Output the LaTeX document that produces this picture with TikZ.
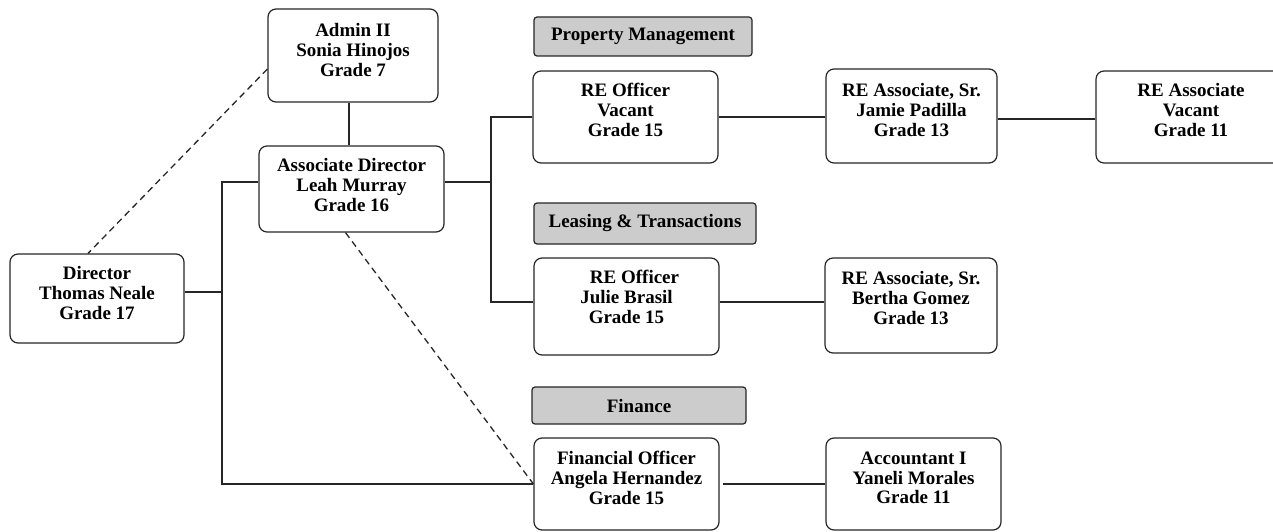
\documentclass[tikz,border=0pt]{standalone}
\usepackage{fontspec}
\setmainfont{Liberation Serif}
\begin{document}
\begin{tikzpicture}[x=1pt,y=1pt,
  unit/.style={draw=black!85, line width=1.2pt, rounded corners=8pt, fill=white, inner sep=0pt},
  section/.style={unit, fill=black!20, rounded corners=3pt},
  unittext/.style={align=center, inner sep=0pt, font=\bfseries\fontsize{19}{19.8}\selectfont},
  link/.style={draw=black!85, line width=1.3pt},
  dotted link/.style={link, dash pattern=on 6.5pt off 4.5pt}]
% canvas: 1273 x 532, y measured downwards as negative values
\useasboundingbox (0,0) rectangle (1273,-532);
\clip (0,0) rectangle (1273,-532);

% #1 name, #2 centre x, #3 centre y (downwards), #4 width, #5 height, #6 text lift, #7 text
\newcommand\orgunit[7]{%
  \node[unit, minimum width=#4pt, minimum height=#5pt] (#1) at (#2,-#3) {};
  \node[unittext] (#1-text) at ([yshift=#6pt]#1.center) {#7};}
\newcommand\orgsection[6]{%
  \node[section, minimum width=#4pt, minimum height=#5pt] (#1) at (#2,-#3) {};
  \node[unittext] (#1-text) at (#1.center) {#6};}

% executive level
\orgunit{admin}{353}{55.5}{170}{93}{5.5}{Admin II\\Sonia Hinojos\\Grade 7}
\orgunit{assoc}{351.5}{189}{185}{86}{4}{Associate Director\\Leah Murray\\Grade 16}
\orgunit{director}{97}{298.5}{174}{89}{5.5}{Director\\Thomas Neale\\Grade 17}

% section headers
\orgsection{pm}{643}{36.5}{218}{39}{Property Management}
\orgsection{lt}{645}{223.5}{222}{41}{Leasing \& Transactions}
\orgsection{fin}{639}{405.5}{214}{37}{Finance}

% property management
\orgunit{ofv}{625.5}{117}{185}{92}{7}{RE Officer\\Vacant\\Grade 15}
\orgunit{jamie}{911.5}{116}{171}{94}{6}{RE Associate, Sr.\\Jamie Padilla\\Grade 13}
\orgunit{rea}{1191}{117}{190}{92}{7}{RE Associate\\Vacant\\Grade 11}

% leasing & transactions
\orgunit{julie}{626.5}{306.5}{185}{97}{9.5}{\hspace*{16pt}RE Officer\\Julie Brasil\\Grade 15}
\orgunit{bertha}{911}{305.5}{172}{95}{7.5}{RE Associate, Sr.\\Bertha Gomez\\Grade 13}

% finance
\orgunit{fo}{626.5}{484}{185}{92}{6}{Financial Officer\\Angela Hernandez\\Grade 15}
\orgunit{acc}{913.5}{484}{175}{92}{6}{Accountant I\\Yaneli Morales\\Grade 11}

% junction points and connector ends
\coordinate (trunk) at (222,-182);
\coordinate (branch) at (491,-182);
\coordinate (admin-s) at ([xshift=-4pt]admin.south);
\coordinate (dir-e) at ([yshift=6.5pt]director.east);
\coordinate (assoc-w) at ([yshift=7pt]assoc.west);
\coordinate (assoc-e) at ([yshift=7pt]assoc.east);
\coordinate (julie-w) at ([yshift=4.5pt]julie.west);
\coordinate (julie-e) at ([yshift=4.5pt]julie.east);
\coordinate (jamie-e) at ([yshift=-3pt]jamie.east);
\coordinate (fo-e) at ([xshift=3pt]fo.east);
\coordinate (admin-w) at ([yshift=-13.5pt]admin.west);
\coordinate (dir-n) at ([xshift=-9pt]director.north);
\coordinate (assoc-s) at ([xshift=-6pt]assoc.south);

% reporting lines
\draw[link] (admin-s) -- (admin-s |- assoc.north);
\draw[link] (dir-e) -- (dir-e -| trunk);
\draw[link] (assoc-w) -- (trunk) -- (trunk |- fo.west) -- (fo.west);
\draw[link] (assoc-e) -- (branch);
\draw[link] (ofv.west) -- (branch |- ofv.west) -- (branch |- julie-w) -- (julie-w);
\draw[link] (ofv.east) -- (ofv.east -| jamie.west);
\draw[link] (jamie-e) -- (jamie-e -| rea.west);
\draw[link] (julie-e) -- (julie-e -| bertha.west);
\draw[link] (fo-e) -- (fo-e -| acc.west);

% dotted-line relationships
\draw[dotted link] (admin-w) -- (dir-n);
\draw[dotted link] (assoc-s) -- (fo.west);
\end{tikzpicture}
\end{document}
